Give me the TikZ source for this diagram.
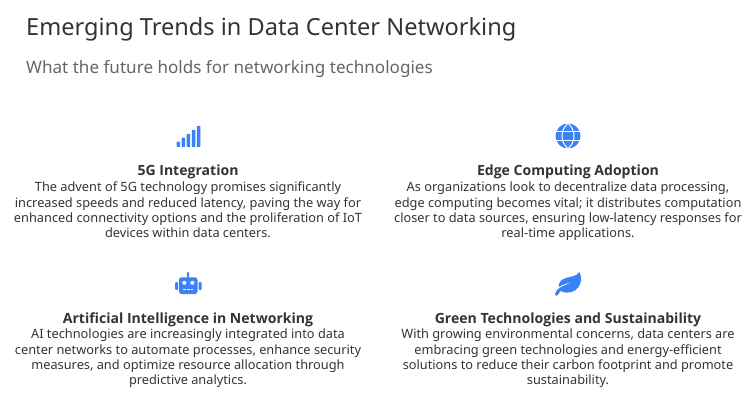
\documentclass[tikz,border=0pt]{standalone}
\usepackage{fontspec}
\setmainfont{Noto Sans}
\newfontfamily\headfont{Open Sans}
\definecolor{ink}{HTML}{333333}
\definecolor{subink}{HTML}{666666}
\definecolor{iconblue}{HTML}{3B82F6}
\tikzset{
  x=1pt,y=-1pt,
  titletext/.style={anchor=base west,inner sep=0,text=ink,font=\fontsize{23.57}{28}\selectfont},
  subtext/.style={anchor=base west,inner sep=0,text=subink,font=\fontsize{17.08}{22}\selectfont},
  headtext/.style={anchor=base,inner sep=0,text=ink,font=\headfont\fontsize{14.05}{15.4}\selectfont\bfseries},
  bodytext/.style={anchor=north,inner sep=0,text=ink,align=center,font=\fontsize{12.78}{15.4}\selectfont},
  iconfill/.style={fill=iconblue,draw=none},
  iconcut/.style={draw=white,line width=1pt}
}
\begin{document}
\begin{tikzpicture}
\useasboundingbox (0,0) rectangle (751,411);
\node[titletext] (title) at (26,36) {Emerging Trends in Data Center Networking};
\node[subtext] (subtitle) at (26,73.5) {What the future holds for networking technologies};

% bars icon
\fill[iconfill,rounded corners=.6] (176.5,147) rectangle (180,141.7);
\fill[iconfill,rounded corners=.6] (181.5,147) rectangle (185,137.7);
\fill[iconfill,rounded corners=.6] (186.7,147) rectangle (190.2,134);
\fill[iconfill,rounded corners=.6] (191.8,147) rectangle (195.3,130);
\fill[iconfill,rounded corners=.6] (196.8,147) rectangle (200.3,126);

% globe icon
\fill[iconfill] (568,136) circle (12.5);
\draw[iconcut] (555,131.8) -- (581,131.8) (555,140.2) -- (581,140.2);
\draw[iconcut] (568,123.5) .. controls (560,130) and (560,142) .. (568,148.5);
\draw[iconcut] (568,123.5) .. controls (576,130) and (576,142) .. (568,148.5);

% robot icon
\fill[iconfill] (187.2,273) rectangle (188.8,278);
\fill[iconfill] (188,273.2) circle (1.4);
\fill[iconfill,rounded corners=2.5] (179,277.3) rectangle (197.5,294);
\fill[iconfill,rounded corners=1] (175,282) rectangle (178,290);
\fill[iconfill,rounded corners=1] (198.7,282) rectangle (201.7,290);
\fill[white] (184.3,282.8) circle (2);
\fill[white] (192.3,282.8) circle (2);
\fill[white] (183.3,288.5) rectangle (186,289.8);
\fill[white] (187,288.5) rectangle (189.7,289.8);
\fill[white] (190.7,288.5) rectangle (193.4,289.8);

% leaf icon
\fill[iconfill] (579.3,272) .. controls (577,276.5) and (570,276.5) .. (566,278)
  .. controls (561,279.5) and (558.5,282.5) .. (558.8,287)
  .. controls (562,284.5) and (568,283) .. (573.5,282)
  .. controls (567,284) and (561,286.5) .. (557.5,289.5)
  .. controls (556.5,291) and (555.5,292.5) .. (555,294)
  .. controls (554.8,296) and (556.8,296.5) .. (557.7,295)
  .. controls (558.5,293.5) and (559.3,292.5) .. (560.5,291)
  .. controls (567,294.5) and (575,292.5) .. (578.5,287)
  .. controls (581.8,282) and (581.8,276) .. (579.3,272) -- cycle;

\node[headtext] (h1) at (188,176) {5G Integration};
\node[bodytext] (b1) at (188,181.8) {The advent of 5G technology promises significantly\\increased speeds and reduced latency, paving the way for\\enhanced connectivity options and the proliferation of IoT\\devices within data centers.};
\node[headtext] (h2) at (568,176) {Edge Computing Adoption};
\node[bodytext] (b2) at (568,181.8) {As organizations look to decentralize data processing,\\edge computing becomes vital; it distributes computation\\closer to data sources, ensuring low-latency responses for\\real-time applications.};
\node[headtext] (h3) at (188,323) {Artificial Intelligence in Networking};
\node[bodytext] (b3) at (188,328.8) {AI technologies are increasingly integrated into data\\center networks to automate processes, enhance security\\measures, and optimize resource allocation through\\predictive analytics.};
\node[headtext] (h4) at (568,323) {Green Technologies and Sustainability};
\node[bodytext] (b4) at (568,328.8) {With growing environmental concerns, data centers are\\embracing green technologies and energy-efficient\\solutions to reduce their carbon footprint and promote\\sustainability.};
\end{tikzpicture}
\end{document}
